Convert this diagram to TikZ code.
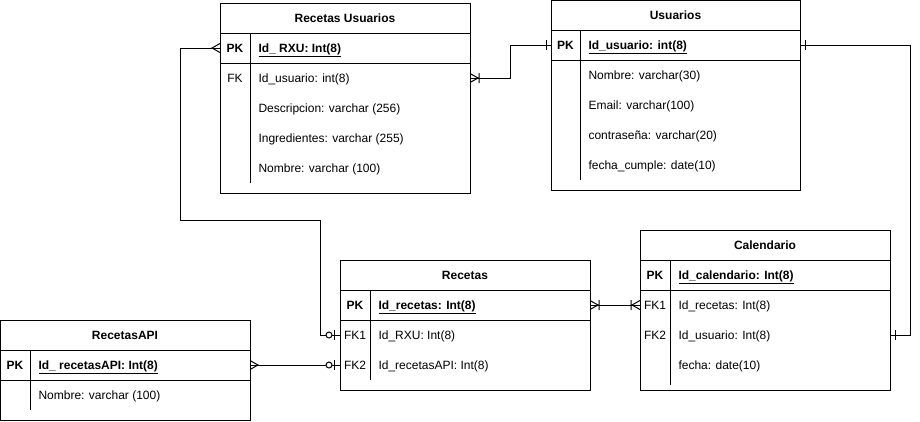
\documentclass[tikz,border=0pt]{standalone}
\usepackage{fontspec}
\setmainfont{Liberation Sans}
\usetikzlibrary{calc}

\def\tam{\fontsize{12}{14}\selectfont}
\tikzset{
	titulo/.style={font=\tam\bfseries},
	clave/.style={font=\tam\bfseries},
	campo/.style={anchor=west,inner sep=0pt},
	% extremos de las relaciones
	muchos/.pic={\draw (0,-4.5) -- (8,0) -- (0,4.5);},
	unomuchos/.pic={\draw (0,-4.5) -- (8,0) -- (0,4.5) (9,-5) -- (9,5);},
	uno/.pic={\draw (5,-5) -- (5,5);},
	ceroUno/.pic={\draw (6,-5) -- (6,5); \draw[fill=white] (11,0) circle (3);},
}

\begin{document}
\begin{tikzpicture}[x=1pt,y=-1pt,line width=1pt,font=\tam,
	every node/.style={text height=8.6pt,text depth=0pt}]
	\useasboundingbox (0,0) rectangle (920,421);
	
	% Recetas Usuarios
	\draw (220,3.5) rectangle (470,193);
	\draw (220,33) -- (470,33) (220,63) -- (470,63) (250,33) -- (250,183);
	\node[titulo] (ruT) at (345,18) {Recetas Usuarios};
	\node[clave] (ruPK) at (235,48) {PK};
	\node[campo,clave] (ruId) at (258,48) {\underline{Id\_ RXU: Int(8)}};
	\node (ruFK) at (235,78) {FK};
	\node[campo] (ruUs) at (258,78) {Id\_usuario: int(8)};
	\node[campo] (ruDe) at (258,108) {Descripcion: varchar (256)};
	\node[campo] (ruIn) at (258,138) {Ingredientes: varchar (255)};
	\node[campo] (ruNo) at (258,168) {Nombre: varchar (100)};
	\coordinate (ruPKw) at (220,48);
	\coordinate (ruFKe) at (470,78);
	
	% Usuarios
	\draw (551,0.5) rectangle (800,190);
	\draw (551,30) -- (800,30) (551,60) -- (800,60) (580,30) -- (580,180);
	\node[titulo] (usT) at (675.5,15) {Usuarios};
	\node[clave] (usPK) at (565.5,45) {PK};
	\node[campo,clave] (usId) at (588,45) {\underline{Id\_usuario: int(8)}};
	\node[campo] (usNo) at (588,75) {Nombre: varchar(30)};
	\node[campo] (usEm) at (588,105) {Email: varchar(100)};
	\node[campo] (usCo) at (588,135) {contraseña: varchar(20)};
	\node[campo] (usFe) at (588,165) {fecha\_cumple: date(10)};
	\coordinate (usPKw) at (551,45);
	\coordinate (usPKe) at (800,45);
	
	% Calendario
	\draw (640,230) rectangle (890,390);
	\draw (640,260) -- (890,260) (640,290) -- (890,290) (670,260) -- (670,385);
	\node[titulo] (caT) at (765,245) {Calendario};
	\node[clave] (caPK) at (655,275) {PK};
	\node[campo,clave] (caId) at (678,275) {\underline{Id\_calendario: Int(8)}};
	\node (caFK1) at (655,305) {FK1};
	\node (caFK2) at (655,335) {FK2};
	\node[campo] (caRe) at (678,305) {Id\_recetas: Int(8)};
	\node[campo] (caUs) at (678,335) {Id\_usuario: Int(8)};
	\node[campo] (caFe) at (678,365) {fecha: date(10)};
	\coordinate (caFK1w) at (640,305);
	\coordinate (caFK2e) at (890,335);
	
	% Recetas
	\draw (340,260) rectangle (590,390);
	\draw (340,290) -- (590,290) (340,320) -- (590,320) (370,290) -- (370,380);
	\node[titulo] (reT) at (465,275) {Recetas};
	\node[clave] (rePK) at (355,305) {PK};
	\node[campo,clave] (reId) at (378,305) {\underline{Id\_recetas: Int(8)}};
	\node (reFK1) at (355,335) {FK1};
	\node (reFK2) at (355,365) {FK2};
	\node[campo] (reRx) at (378,335) {Id\_RXU: Int(8)};
	\node[campo] (reAp) at (378,365) {Id\_recetasAPI: Int(8)};
	\coordinate (rePKe) at (590,305);
	\coordinate (reFK1w) at (340,335);
	\coordinate (reFK2w) at (340,365);
	
	% RecetasAPI
	\draw (0.5,320) rectangle (250,420);
	\draw (0.5,350) -- (250,350) (0.5,380) -- (250,380) (30,350) -- (30,410);
	\node[titulo] (apT) at (125,335) {RecetasAPI};
	\node[clave] (apPK) at (15,365) {PK};
	\node[campo,clave] (apId) at (38,365) {\underline{Id\_ recetasAPI: Int(8)}};
	\node[campo] (apNo) at (38,395) {Nombre: varchar (100)};
	\coordinate (apPKe) at (250,365);
	
	% relaciones
	\draw (ruPKw) -- ++(-40,0) |- (320,220) |- (reFK1w);
	\draw (apPKe) -- (reFK2w);
	\draw (ruFKe) -- (510,78) |- (usPKw);
	\draw (rePKe) -- (caFK1w);
	\draw (usPKe) -- (910,45) |- (caFK2e);
	
	\pic[rotate=180] at (ruPKw) {muchos};
	\pic[rotate=180] at (reFK1w) {ceroUno};
	\pic at (apPKe) {muchos};
	\pic[rotate=180] at (reFK2w) {ceroUno};
	\pic at (ruFKe) {unomuchos};
	\pic[rotate=180] at (usPKw) {uno};
	\pic at (rePKe) {unomuchos};
	\pic[rotate=180] at (caFK1w) {unomuchos};
	\pic at (usPKe) {uno};
	\pic at (caFK2e) {uno};
\end{tikzpicture}
\end{document}
